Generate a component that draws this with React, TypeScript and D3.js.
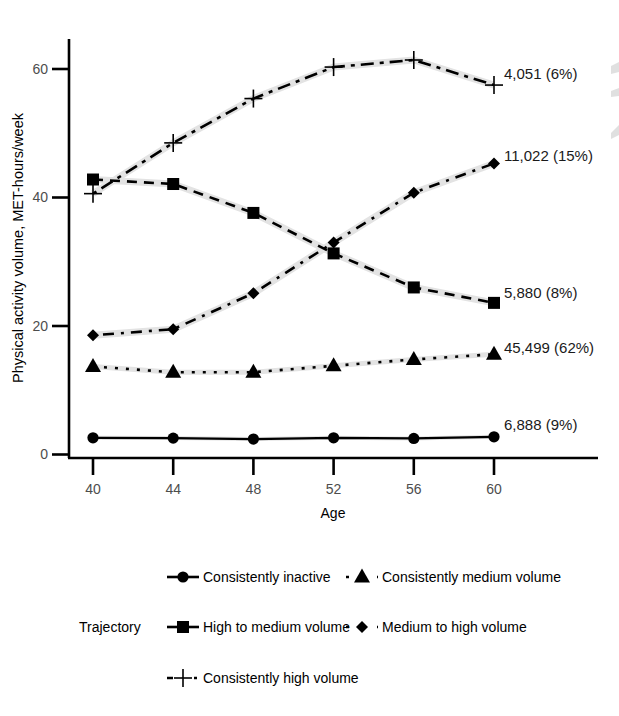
import React from "react";
import * as d3 from "d3";

const ages = [40, 44, 48, 52, 56, 60];
const inactive = [2.6, 2.55, 2.4, 2.6, 2.5, 2.75];
const mediumVol = [13.7, 12.8, 12.8, 13.8, 14.8, 15.6];
const highToMedium = [42.8, 42.1, 37.6, 31.3, 26.0, 23.6];
const mediumToHigh = [18.55, 19.5, 25.1, 33.0, 40.75, 45.3];
const highVol = [40.6, 48.5, 55.4, 60.3, 61.4, 57.5];

const seriesNames = [
  "Consistently inactive",
  "Consistently medium volume",
  "High to medium volume",
  "Medium to high volume",
  "Consistently high volume",
];
const endLabels = ["6,888 (9%)", "45,499 (62%)", "5,880 (8%)", "11,022 (15%)", "4,051 (6%)"];
const yTicks = [0, 20, 40, 60];

const FONT = "'Liberation Sans', Arial, Helvetica, sans-serif";

type Shape = "circle" | "triangle" | "square" | "diamond" | "plus";
const seriesValues = [inactive, mediumVol, highToMedium, mediumToHigh, highVol];
const shapes: Shape[] = ["circle", "triangle", "square", "diamond", "plus"];
const dashes = ["none", "3,8", "10,7", "3,7,11,7", "4,6,13,6"];
const legendDashes = ["none", "3,28", "none", "3,28", "6,21,3,10"];
const labelOffsets = [-12, -7, -10, -8, -11];

function Marker({ shape, x, y }: { shape: Shape; x: number; y: number }) {
  if (shape === "circle") return <circle cx={x} cy={y} r={5.6} fill="#000" />;
  if (shape === "square") return <rect x={x - 6} y={y - 6} width={12} height={12} fill="#000" />;
  if (shape === "triangle")
    return <path d={`M${x},${y - 8.5} L${x + 8},${y + 5.5} L${x - 8},${y + 5.5} Z`} fill="#000" />;
  if (shape === "diamond")
    return <path d={`M${x},${y - 6} L${x + 6},${y} L${x},${y + 6} L${x - 6},${y} Z`} fill="#000" />;
  return (
    <g stroke="#000" strokeWidth={1.6}>
      <line x1={x - 9} x2={x + 9} y1={y} y2={y} />
      <line x1={x} x2={x} y1={y - 9} y2={y + 9} />
    </g>
  );
}

export default function App() {
  const W = 619, H = 716;
  const x = d3.scaleLinear().domain([40, 60]).range([93, 494]);
  const y = d3.scaleLinear().domain([0, 60]).range([454.5, 69]);
  const line = d3
    .line<number>()
    .x((_, i) => x(ages[i]))
    .y((d) => y(d));

  const legendRows = [
    { i: 0, lx: 167, ty: 577 },
    { i: 1, lx: 346, ty: 577 },
    { i: 2, lx: 167, ty: 627 },
    { i: 3, lx: 346, ty: 627 },
    { i: 4, lx: 167, ty: 678 },
  ];

  return (
    <svg
      width={W}
      height={H}
      style={{ position: "absolute", left: 0, top: 0, background: "#fff" }}
      fontFamily={FONT}
    >
      <rect width={W} height={H} fill="#fff" />
      {/* decorative grey marks at right edge */}
      <g fill="#e0e0e0">
        <path d="M611,66 L619,62 L619,72 L611,74 Z" />
        <path d="M611,91 L619,88 L619,96 L611,97 Z" />
        <path d="M611,133 L619,125 L619,135 L611,139 Z" />
      </g>

      {/* axes */}
      <line x1={69} x2={69} y1={39} y2={458} stroke="#000" strokeWidth={2.6} />
      <line x1={68} x2={598} y1={458} y2={458} stroke="#000" strokeWidth={2.6} />
      {yTicks.map((t) => (
        <g key={t}>
          <line x1={52} x2={69} y1={y(t)} y2={y(t)} stroke="#000" strokeWidth={2.6} />
          <text x={48} y={y(t)} dy="0.35em" textAnchor="end" fontSize={14} fill="#4d4d4d">
            {t}
          </text>
        </g>
      ))}
      {ages.map((a) => (
        <g key={a}>
          <line x1={x(a)} x2={x(a)} y1={458} y2={475} stroke="#000" strokeWidth={2.6} />
          <text x={x(a)} y={489} dy="0.35em" textAnchor="middle" fontSize={14} fill="#4d4d4d">
            {a}
          </text>
        </g>
      ))}
      <text x={333} y={513} dy="0.35em" textAnchor="middle" fontSize={14} fill="#000">
        Age
      </text>
      <text
        transform={`translate(18,248) rotate(-90)`}
        textAnchor="middle"
        dy="0.35em"
        fontSize={14.5}
        fill="#000"
      >
        Physical activity volume, MET-hours/week
      </text>

      {/* grey ribbons */}
      {seriesValues.map((vals, i) => (
        <path
          key={"r" + i}
          d={line(vals) || ""}
          fill="none"
          stroke="#e3e3e3"
          strokeWidth={i === 0 ? 4 : i === 1 ? 5 : 7}
          strokeLinejoin="round"
        />
      ))}
      {/* lines */}
      {seriesValues.map((vals, i) => (
        <path
          key={"l" + i}
          d={line(vals) || ""}
          fill="none"
          stroke="#000"
          strokeWidth={i === 0 ? 2.2 : 2.6}
          strokeDasharray={dashes[i]}
        />
      ))}
      {/* markers */}
      {seriesValues.map((vals, i) =>
        vals.map((v, j) => <Marker key={`m${i}-${j}`} shape={shapes[i]} x={x(ages[j])} y={y(v)} />)
      )}
      {/* end labels */}
      {seriesValues.map((vals, i) => (
        <text
          key={"t" + i}
          x={x(60) + 10}
          y={y(vals[vals.length - 1]) + labelOffsets[i]}
          dy="0.35em"
          fontSize={15}
          fill="#1a1a1a"
        >
          {endLabels[i]}
        </text>
      ))}

      {/* legend */}
      <text x={79} y={627} dy="0.35em" fontSize={14} fill="#000">
        Trajectory
      </text>
      {legendRows.map(({ i, lx, ty }) => (
        <g key={"lg" + i}>
          <line
            x1={lx}
            x2={lx + 32}
            y1={ty}
            y2={ty}
            stroke="#000"
            strokeWidth={2.6}
            strokeDasharray={legendDashes[i]}
          />
          <Marker shape={shapes[i]} x={lx + 16} y={ty} />
          <text x={lx + 36} y={ty} dy="0.35em" fontSize={14} fill="#000">
            {seriesNames[i]}
          </text>
        </g>
      ))}
    </svg>
  );
}
